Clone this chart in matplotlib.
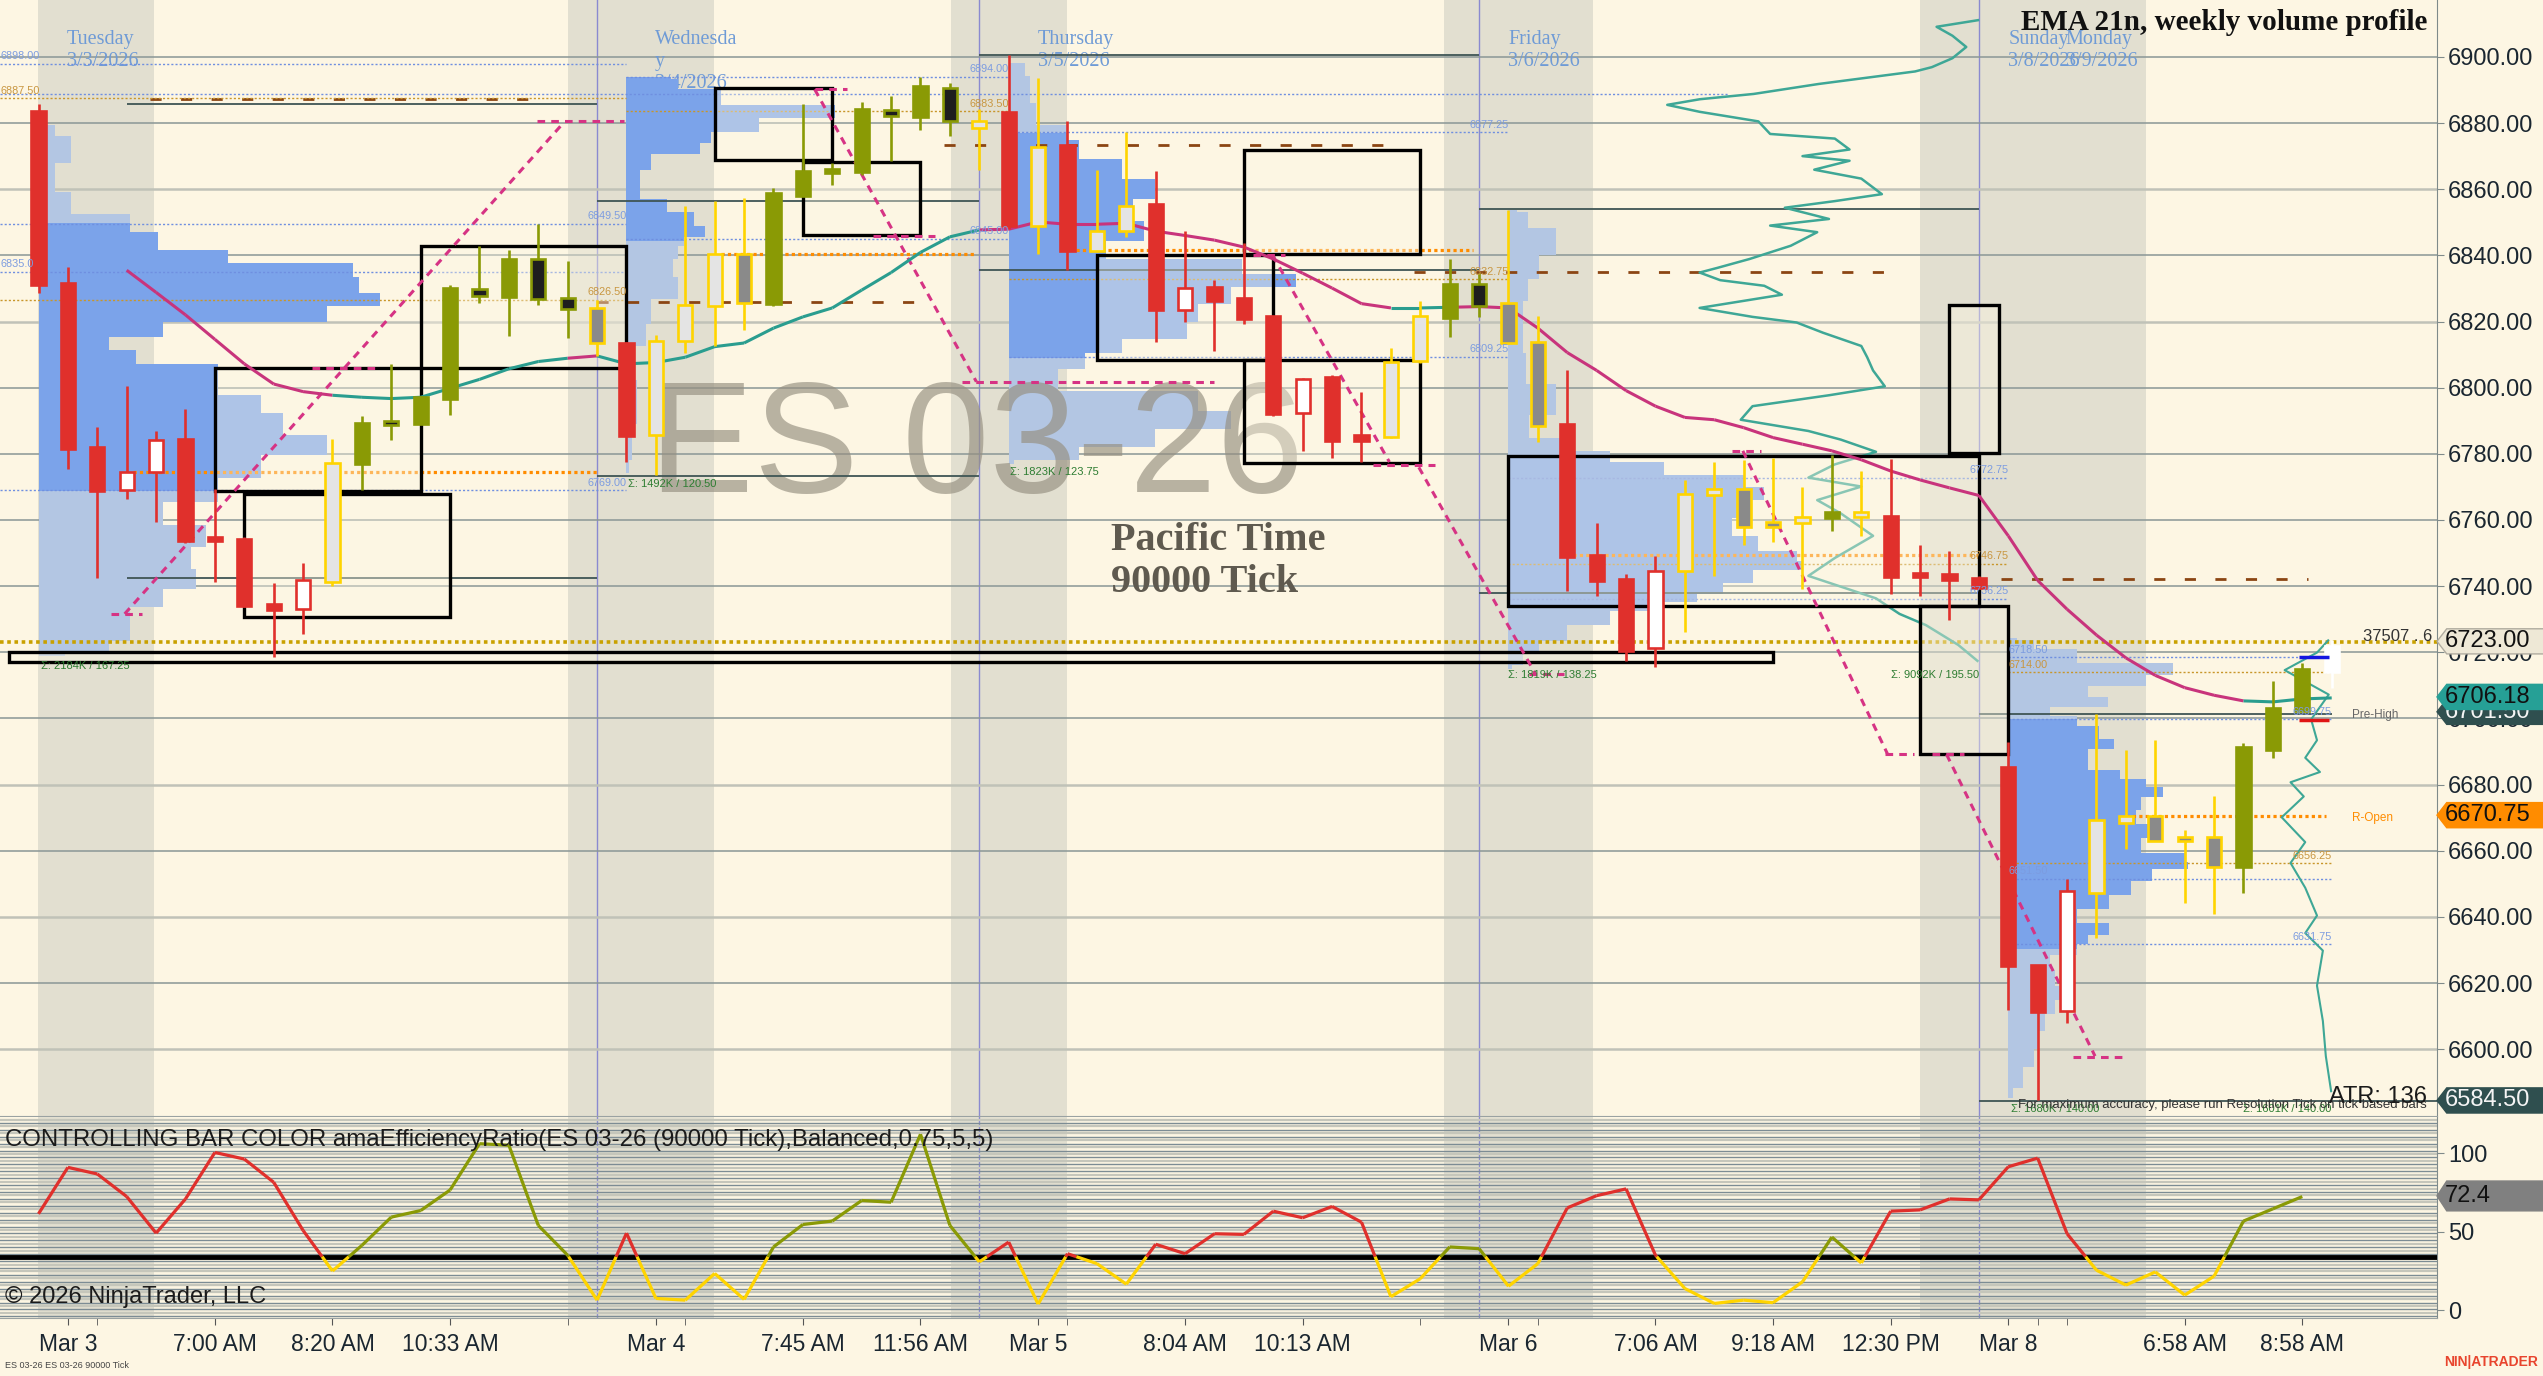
import numpy as np
import matplotlib.pyplot as plt
import matplotlib.transforms as mtransforms
from matplotlib.patches import Rectangle, Polygon
from matplotlib.collections import LineCollection

# ================= data =================
# one candle per 90000-tick bar, x = bar index
opens = [6883.7, 6831.6, 6782.2, 6769.1, 6774.5, 6784.6, 6754.6, 6754.3, 6734.7, 6733.0,
         6741.3, 6776.8, 6789.4, 6789.0, 6796.6, 6829.7, 6827.4, 6838.9, 6827.0, 6824.0,
         6813.5, 6785.6, 6814.0, 6824.7, 6840.5, 6825.4, 6858.0, 6865.4, 6865.2, 6884.0,
         6881.8, 6890.7, 6878.4, 6883.4, 6849.0, 6873.3, 6841.3, 6847.4, 6855.4, 6823.4,
         6830.4, 6827.0, 6821.6, 6792.3, 6803.1, 6785.6, 6785.2, 6808.1, 6821.1, 6831.2,
         6825.7, 6813.8, 6789.0, 6749.5, 6742.0, 6721.2, 6744.7, 6767.4, 6769.4, 6759.3,
         6759.0, 6760.6, 6760.9, 6761.3, 6744.0, 6743.8, 6742.4, 6685.4, 6625.5, 6611.5,
         6647.3, 6668.5, 6670.6, 6664.2, 6664.2, 6655.0, 6690.4, 6702.1, 6714.1]
highs = [6885.7, 6836.5, 6788.2, 6800.4, 6786.8, 6793.5, 6769.4, 6754.8, 6740.9, 6747.1,
         6784.5, 6791.4, 6807.2, 6797.5, 6831.1, 6842.7, 6841.6, 6849.4, 6838.2, 6826.5,
         6813.7, 6816.0, 6854.8, 6856.4, 6857.4, 6860.5, 6885.9, 6867.9, 6886.4, 6888.2,
         6894.0, 6892.0, 6884.1, 6900.6, 6893.6, 6880.5, 6865.9, 6877.2, 6865.5, 6847.3,
         6832.5, 6843.6, 6821.8, 6802.9, 6803.8, 6798.8, 6811.9, 6826.1, 6838.9, 6834.8,
         6853.7, 6821.6, 6805.2, 6759.0, 6743.8, 6749.2, 6772.1, 6777.5, 6778.2, 6778.8,
         6770.1, 6779.5, 6774.8, 6778.4, 6752.3, 6750.5, 6743.0, 6692.9, 6625.5, 6651.5,
         6701.3, 6690.4, 6693.4, 6666.3, 6676.4, 6692.5, 6711.2, 6716.9, 6723.6]
lows = [6828.5, 6775.5, 6742.4, 6766.3, 6759.3, 6753.0, 6741.1, 6733.8, 6718.7, 6725.5,
        6740.0, 6769.0, 6784.2, 6789.0, 6791.7, 6825.7, 6815.7, 6824.9, 6815.0, 6809.6,
        6777.5, 6773.7, 6810.6, 6812.6, 6817.3, 6824.7, 6858.0, 6861.2, 6864.3, 6868.6,
        6878.0, 6876.0, 6865.9, 6848.0, 6840.5, 6835.5, 6840.9, 6845.6, 6813.9, 6819.7,
        6811.0, 6819.1, 6791.4, 6780.9, 6778.8, 6777.5, 6784.9, 6807.6, 6815.3, 6821.4,
        6813.3, 6783.6, 6738.4, 6737.0, 6717.4, 6715.6, 6726.2, 6743.1, 6752.5, 6753.2,
        6739.0, 6756.6, 6755.2, 6737.7, 6737.0, 6729.8, 6739.0, 6611.7, 6584.5, 6608.0,
        6633.5, 6660.5, 6662.8, 6644.1, 6640.9, 6647.3, 6688.1, 6702.1, 6709.3]
closes = [6831.1, 6781.5, 6768.7, 6774.5, 6784.2, 6753.6, 6753.8, 6734.0, 6732.8, 6741.7,
          6777.2, 6789.2, 6789.0, 6797.1, 6830.1, 6827.8, 6838.9, 6826.8, 6823.8, 6813.5,
          6785.5, 6814.2, 6825.0, 6840.5, 6825.7, 6858.9, 6865.6, 6865.8, 6884.1, 6882.2,
          6891.1, 6880.5, 6880.5, 6848.8, 6872.9, 6841.3, 6847.4, 6854.8, 6823.4, 6830.1,
          6826.3, 6820.7, 6791.9, 6802.7, 6783.8, 6783.8, 6807.8, 6821.6, 6831.2, 6824.7,
          6813.5, 6788.3, 6748.9, 6741.5, 6720.4, 6744.7, 6768.0, 6769.4, 6758.0, 6758.0,
          6760.9, 6762.5, 6762.5, 6742.8, 6742.8, 6741.7, 6739.3, 6625.2, 6611.2, 6647.8,
          6669.2, 6670.6, 6662.8, 6662.8, 6655.2, 6691.5, 6703.1, 6714.9, 6722.0]
# bar colour state from amaEfficiencyRatio: r=down trend, g=up trend, y=neutral, w=live bar
trend = ("rrrrrrrrrr" + "y" + "gggggggg" + "y" + "r" + "yyyy" + "ggggggg" + "y" + "r" + "y"
         + "r" + "yy" + "rrrrrrrr" + "yy" + "gg" + "yy" + "rrrr" + "yyyyy" + "g" + "y"
         + "rrrrrrr" + "yyyyy" + "ggg" + "w")

# EMA 21, starts at bar 3
ema_start = 3
ema = [6835.5, 6828.8, 6822.0, 6814.6, 6807.2, 6801.1, 6798.8, 6797.7, 6797.1, 6796.7,
       6797.1, 6799.8, 6802.5, 6805.7, 6807.9, 6808.9, 6809.6, 6807.2, 6807.6, 6809.2,
       6812.4, 6813.5, 6818.0, 6821.4, 6824.1, 6829.5, 6834.8, 6840.9, 6845.6, 6847.7,
       6847.9, 6850.1, 6849.4, 6849.4, 6849.7, 6847.3, 6846.0, 6844.6, 6842.5, 6838.9,
       6834.6, 6830.1, 6825.4, 6824.1, 6824.1, 6824.3, 6824.5, 6824.1, 6818.0, 6810.6,
       6805.2, 6799.1, 6794.4, 6791.0, 6790.3, 6787.9, 6784.9, 6782.9, 6780.9, 6778.2,
       6774.8, 6772.1, 6769.7, 6767.4, 6755.2, 6741.7, 6733.0, 6725.2, 6718.3, 6713.0,
       6709.3, 6707.0, 6705.3, 6705.0, 6705.9, 6706.2]
ema_teal = [(10, 18), (19, 32), (46, 48), (75, 78)]

# efficiency ratio (lower panel), bars 0..77
er_vals = [61.3, 90.9, 86.7, 72.3, 49.0, 70.8, 100.4, 96.2, 81.4, 50.7,
           24.9, 41.2, 59.2, 63.4, 76.5, 106.0, 105.0, 53.9, 34.9, 6.3,
           49.0, 7.4, 6.3, 23.3, 6.8, 40.2, 54.5, 56.7, 69.8, 68.7,
           112.0, 53.9, 30.7, 43.3, 3.8, 35.9, 29.6, 16.5, 41.9, 35.9,
           48.6, 48.2, 63.0, 58.8, 66.0, 56.0, 8.5, 20.0, 40.2, 39.1,
           15.2, 29.6, 65.1, 72.9, 77.2, 34.9, 13.7, 4.2, 6.3, 4.7,
           18.0, 46.5, 30.0, 63.0, 63.8, 70.8, 70.2, 91.3, 96.8, 48.6,
           25.4, 15.9, 24.3, 9.5, 21.6, 56.7, 64.5, 72.3]
er_level = 34.0

time_ticks = [1, 6, 10, 14, 21, 26, 30, 34, 39, 43, 50, 55, 59, 63, 67, 73, 77]
time_labels = ["Mar 3", "7:00 AM", "8:20 AM", "10:33 AM", "Mar 4", "7:45 AM", "11:56 AM",
               "Mar 5", "8:04 AM", "10:13 AM", "Mar 6", "7:06 AM", "9:18 AM", "12:30 PM",
               "Mar 8", "6:58 AM", "8:58 AM"]
minor_ticks = [2, 18, 22, 35, 47, 51, 68, 69]

# session shading and session break lines
band_x0 = [-0.03, 18.0, 31.04, 47.8, 64.0]
band_x1 = [3.93, 22.97, 34.97, 52.86, 71.7]
break_x = [19, 32, 49, 66]

day_x = [0.97, 20.97, 34.0, 50.0, 67.0, 68.95]
day_names = ["Tuesday", "Wednesda\ny", "Thursday", "Friday", "Sunday", "Monday"]
day_dates = ["3/3/2026", "3/4/2026", "3/5/2026", "3/6/2026", "3/8/2026", "3/9/2026"]

# session volume profiles: start bar, price levels, widths (bars), value area
prof_x0 = [0, 20, 33, 50, 67]
prof_p = [
    [6879.4, 6872.6, 6863.2, 6855.1, 6849.7, 6844.3, 6838.9, 6836.2, 6830.8, 6826.4, 6822.7,
     6817.3, 6813.3, 6809.2, 6805.2, 6799.8, 6795.7, 6789.0, 6782.2, 6776.8, 6768.7, 6762.0,
     6755.2, 6748.5, 6741.7, 6736.3, 6730.9, 6725.5, 6721.5, 6718.8],
    [6894.0, 6892.9, 6887.5, 6883.4, 6879.4, 6875.3, 6872.6, 6868.6, 6863.2, 6859.1, 6855.1,
     6851.0, 6847.0, 6844.3, 6841.6, 6836.2, 6830.8, 6822.7, 6816.0, 6809.2, 6795.7, 6782.2,
     6774.1],
    [6898.3, 6890.2, 6882.1, 6877.0, 6872.6, 6865.9, 6860.5, 6853.7, 6847.0, 6841.6, 6836.2,
     6832.6, 6828.1, 6822.7, 6817.3, 6811.9, 6808.9, 6802.5, 6795.7, 6790.3, 6784.9, 6779.5,
     6776.8],
    [6853.7, 6852.4, 6844.3, 6836.2, 6829.5, 6822.7, 6814.6, 6806.5, 6795.7, 6787.6, 6782.2,
     6779.3, 6775.5, 6771.4, 6768.7, 6763.3, 6757.9, 6752.5, 6748.5, 6746.5, 6743.1, 6739.0,
     6736.3, 6733.9, 6730.9, 6725.5, 6721.5, 6717.4, 6714.8],
    [6724.3, 6723.1, 6718.8, 6714.6, 6711.4, 6708.2, 6705.0, 6701.9, 6699.7, 6695.5, 6692.3,
     6689.1, 6686.0, 6682.8, 6680.7, 6678.0, 6674.3, 6670.1, 6665.8, 6661.6, 6657.3, 6655.7,
     6653.1, 6648.8, 6644.6, 6640.4, 6636.1, 6633.0, 6630.3, 6626.6, 6621.3, 6617.0, 6612.8,
     6608.5, 6602.2, 6597.9, 6591.6, 6585.2],
]
prof_w = [
    [0.55, 1.1, 0.55, 1.1, 3.1, 4.06, 6.46, 10.7, 10.9, 11.6, 9.8, 4.24, 2.4, 3.3, 6.1, 6.1,
     7.56, 8.3, 9.8, 7.56, 6.1, 4.24, 5.7, 5.2, 5.35, 4.24, 3.1, 3.1, 2.4, 0.9],
    [1.5, 1.75, 3.2, 7.1, 4.5, 2.86, 2.5, 0.83, 0.46, 0.46, 1.38, 2.3, 2.67, 1.94, 1.75, 1.57,
     1.75, 0.83, 0.65, 0.28, 0.37, 0.18, 0.1],
    [0.55, 0.74, 0.92, 2.03, 2.4, 3.87, 4.98, 4.24, 4.6, 3.3, 7.93, 9.77, 7.56, 6.45, 6.08,
     3.87, 2.58, 1.66, 6.45, 7.56, 4.98, 2.4, 0.18],
    [0.3, 0.68, 1.6, 1.05, 0.68, 0.5, 0.5, 0.6, 1.6, 0.7, 1.8, 3.45, 5.3, 8.0, 8.7, 8.0, 7.6,
     8.5, 9.8, 10.0, 8.3, 7.3, 6.4, 5.3, 3.45, 2.0, 1.05, 0.5, 0.13],
    [0.3, 0.88, 2.34, 5.6, 4.7, 2.7, 3.4, 1.43, 2.34, 3.07, 3.6, 2.7, 2.7, 3.8, 4.7, 5.27, 4.53,
     4.35, 4.9, 4.53, 6.0, 6.1, 4.9, 4.17, 3.44, 2.34, 3.44, 2.7, 2.34, 1.43, 1.6, 1.97, 1.6,
     1.24, 1.06, 0.88, 0.5, 0.15],
]
prof_va_lo = [6768.7, 6844.3, 6808.9, 6733.9, 6630.3]
prof_va_hi = [6849.7, 6894.0, 6877.0, 6779.3, 6699.7]

# weekly profile outlines (teal), x in bars
wk1_x = [65.97, 64.56, 65.1, 65.57, 65.1, 64.4, 63.83, 60.54, 58.34, 56.51, 55.4, 56.5, 58.5,
         58.9, 61.1, 61.6, 60.0, 61.6, 60.4, 62.0, 62.7, 61.1, 59.4, 60.9, 58.9, 60.5, 59.6,
         58.2, 57.1, 56.5, 57.2, 58.7, 59.3, 56.5, 58.3, 59.8, 60.7, 62.0, 62.2, 62.4, 62.8,
         60.9, 58.3, 57.9, 60.2, 61.3, 62.5, 61.1, 60.2, 62.0, 60.5, 61.3, 62.4, 61.1, 60.2,
         62.5, 63.3, 64.2, 65.3, 65.95]
wk1_p = [6911.1, 6909.1, 6906.4, 6903.0, 6899.6, 6896.9, 6895.6, 6891.8, 6888.8, 6887.2,
         6885.5, 6883.4, 6880.5, 6876.7, 6875.3, 6872.0, 6870.0, 6868.6, 6865.9, 6863.2,
         6858.5, 6856.4, 6854.4, 6851.0, 6849.0, 6847.0, 6842.9, 6838.9, 6836.2, 6834.8,
         6832.5, 6830.8, 6828.1, 6824.1, 6821.4, 6819.7, 6816.6, 6812.6, 6809.2, 6805.2,
         6800.4, 6797.7, 6794.4, 6790.3, 6786.9, 6784.3, 6780.6, 6776.8, 6772.8, 6770.1,
         6766.0, 6762.0, 6755.2, 6748.5, 6743.1, 6736.3, 6731.6, 6728.2, 6722.2, 6717.4]
wk2_x = [77.88, 77.5, 76.4, 77.9, 77.3, 77.5, 77.1, 77.6, 76.6, 77.05, 76.3, 77.1, 76.6, 77.1,
         77.5, 77.1, 77.7, 77.5, 77.7, 77.8, 77.98]
wk2_p = [6723.6, 6719.9, 6714.6, 6707.2, 6699.7, 6693.4, 6688.1, 6683.8, 6680.7, 6676.4,
         6670.1, 6662.6, 6656.3, 6648.8, 6640.4, 6635.1, 6629.8, 6619.2, 6608.5, 6597.9, 6587.3]

# drawn rectangles: x0, x1, low, high
box_x0 = [13, 6, 7, 23, 26, 41, 36, 41, 50, 65, 64, -1]
box_x1 = [20, 13, 14, 27, 30, 47, 42, 47, 66, 66.7, 67, 59]
box_lo = [6805.8, 6768.7, 6730.7, 6868.9, 6846.3, 6840.5, 6808.5, 6777.2, 6733.9, 6780.2, 6689.1, 6717.0]
box_hi = [6842.9, 6805.8, 6768.0, 6890.6, 6868.3, 6872.0, 6840.0, 6808.5, 6779.2, 6825.1, 6733.9, 6720.2]

# dashed magenta swing lines: x0, p0, x1, p1
mg_x0 = [2.93, 26.4, 41.98, 46.95, 57.97, 64.9, 2.47, 16.95, 9.3, 26.4, 28.4, 31.4, 41.3, 45.4, 50.7, 57.6, 62.8, 64.4, 69.2]
mg_p0 = [6731.6, 6890.2, 6840.0, 6775.9, 6780.9, 6689.1, 6731.6, 6880.5, 6805.8, 6890.2, 6846.0, 6801.8, 6840.0, 6776.5, 6713.4, 6780.9, 6689.1, 6689.1, 6597.7]
mg_x1 = [17.86, 31.9, 45.95, 50.92, 62.9, 69.95, 3.52, 19.9, 11.5, 27.5, 30.5, 40.0, 42.4, 47.5, 51.9, 58.6, 63.8, 65.5, 70.9]
mg_p1 = [6880.1, 6801.8, 6777.5, 6713.4, 6689.1, 6597.9, 6731.6, 6880.5, 6805.8, 6890.2, 6846.0, 6801.8, 6840.0, 6776.5, 6713.4, 6780.9, 6689.1, 6689.1, 6597.7]

# prior session high / low (solid)
sess_x0 = [3, 3, 19, 19, 32, 32, 49, 49, 66, 66]
sess_x1 = [19, 19, 32, 32, 49, 49, 66, 66, 78, 81.6]
sess_p = [6885.9, 6742.4, 6856.4, 6773.4, 6900.6, 6835.5, 6854.0, 6737.9, 6701.3, 6584.3]
# session opens (orange dotted)
open_x0 = [3.2, 23.2, 35.3, 52.2, 71.0]
open_x1 = [19.0, 31.9, 48.8, 66.0, 77.8]
open_p = [6774.4, 6840.5, 6841.6, 6749.4, 6670.4]
# brown dash levels
br_x0 = [3.8, 19.0, 30.8, 46.8, 66.75]
br_x1 = [17.1, 30.2, 46.1, 63.1, 77.2]
br_p = [6887.2, 6825.9, 6873.3, 6835.1, 6742.3]

# profile value-area / POC levels with labels
lvl_x0 = [-1.31, -1.31, -1.31, -1.31, -1.31, -1.31, -1.31, 20, 20, 20, 33, 33, 33, 50, 50, 50, 67, 67, 67, 67, 67, 67]
lvl_x1 = [20, 57.5, 20, 20, 20, 20, 20, 33, 33, 33, 50, 50, 50, 67, 67, 67, 78, 78, 78, 78, 78, 78]
lvl_p = [6898.0, 6888.8, 6887.5, 6835.0, 6849.5, 6826.5, 6769.0, 6894.0, 6883.5, 6845.0,
         6877.25, 6832.75, 6809.25, 6772.75, 6746.75, 6736.25, 6718.5, 6714.0, 6699.75,
         6656.25, 6651.5, 6631.75]
lvl_kind = "bbobbobbobbobbobbobobb"
lvl_label = ["6898.00", "", "6887.50", "6835.0", "6849.50", "6826.50", "6769.00", "6894.00",
             "6883.50", "6845.00", "6877.25", "6832.75", "6809.25", "6772.75", "6746.75",
             "6736.25", "6718.50", "6714.00", "6699.75", "6656.25", "6651.50", "6631.75"]
lvl_side = "l-llrrrrrrrrrrrrllrrlr"

sig_x = [0.07, 20.04, 33.05, 50.0, 66.0, 67.1, 78.0]
sig_p = [6715.8, 6771.0, 6774.5, 6713.0, 6713.1, 6581.8, 6581.8]
sig_t = ["Σ: 2184K / 167.25", "Σ: 1492K / 120.50", "Σ: 1823K / 123.75", "Σ: 1819K / 138.25",
         "Σ: 9092K / 195.50", "Σ: 1680K / 140.00", "Σ: 1601K / 140.00"]
sig_ha = ["left", "left", "left", "left", "right", "left", "right"]

# right-axis price markers (drawn in this order)
mk_p = [6723.3, 6702.0, 6706.5, 6670.75, 6584.5]
mk_t = ["6723.00", "6701.50", "6706.18", "6670.75", "6584.50"]
mk_face = ["#eee8d6", "#2f4f4f", "#26a096", "#ff8c00", "#2f4f4f"]
mk_tc = ["#111111", "#f4f4f4", "#111111", "#111111", "#f4f4f4"]

# ================= styling =================
BG = "#fdf6e3"
BAND = "#e2dfd0"
RED, OLIVE, YEL = "#e0302c", "#8a9a05", "#ffd400"
MAG, TEAL = "#c8347c", "#2a9d8f"
TXT = "#1a2630"
plt.rcParams["font.family"] = ["Liberation Sans", "DejaVu Sans"]

W, H = 2543, 1376
fig = plt.figure(figsize=(W / 100, H / 100), dpi=100, facecolor=BG)
ax = fig.add_axes([0, 1 - 1116 / H, 2437 / W, 1116 / H], facecolor=BG)
axi = fig.add_axes([0, 1 - 1318 / H, 2437 / W, 201 / H], facecolor=BG)

XL = (-38.5 / 29.4, (2437 - 38.5) / 29.4)
for a in (ax, axi):
    a.set_xlim(*XL)
    for b0, b1 in zip(band_x0, band_x1):
        a.axvspan(b0, b1, color=BAND, lw=0, zorder=0.5)
    for bx in break_x:
        a.axvline(bx, color="#8a8ad0", lw=1.0, zorder=0.8)
    for s in ("top", "left"):
        a.spines[s].set_visible(False)
    a.spines["right"].set_color("#7f8a8a")
    a.spines["bottom"].set_color("#9aa2a2")
ax.set_ylim(6579.8, 6917.2)
axi.set_ylim(-5.07, 123.0)

# ---- price grid
for p in range(6600, 6901, 20):
    light = p in (6860, 6820, 6680, 6640, 6600)
    ax.axhline(p, color="#c0c2b8" if light else "#8a9696", lw=1.8 if light else 1.1, zorder=1)

ax.yaxis.tick_right()
ax.set_yticks(range(6600, 6901, 20))
ax.set_yticklabels([f"{p:.2f}" for p in range(6600, 6901, 20)])
ax.tick_params(axis="y", labelsize=17, colors=TXT, length=5, pad=3, color="#7f8a8a")
ax.set_xticks([])

# ---- watermark and session labels
ax.text(31.9, 6780.8, "ES 03-26", fontsize=113, color="#958f80", alpha=0.66,
        ha="center", va="center", zorder=2.6)
tday = mtransforms.blended_transform_factory(ax.transData, ax.transAxes)
for dx, nm, dt in zip(day_x, day_names, day_dates):
    lines = nm.split("\n") + [dt]
    for k, t in enumerate(lines):
        ax.text(dx, 0.9642 - k * 0.0193, t, transform=tday, fontsize=14.5,
                family="Liberation Serif", color="#6f9bd6", va="center", ha="left", zorder=1.3)

# ---- volume profiles
for x0, pp, ww, lo, hi in zip(prof_x0, prof_p, prof_w, prof_va_lo, prof_va_hi):
    pp = np.array(pp)
    ww = np.array(ww)
    ax.fill_betweenx(pp, x0, x0 + ww, step="mid", color="#b3c6e3", lw=0, zorder=2)
    m = (pp >= lo - 0.01) & (pp <= hi + 0.01)
    ax.fill_betweenx(pp, x0, x0 + ww, where=m, step="mid", color="#7ba3ea", lw=0, zorder=2.1)

# ---- levels
for x0, x1, p in zip(sess_x0, sess_x1, sess_p):
    ax.hlines(p, x0, x1, color="#3f5555", lw=1.3, zorder=3)
for x0, x1, p in zip(open_x0, open_x1, open_p):
    ax.hlines(p, x0, x1, color="#ff8c00", lw=2.3, linestyles=(0, (1, 1)), zorder=3)
for x0, x1, p in zip(br_x0, br_x1, br_p):
    ax.hlines(p, x0, x1, color="#8b4513", lw=2.0, linestyles=(0, (4, 7)), zorder=3)
ax.hlines(6723.0, XL[0], XL[1], color="#c9a100", lw=2.6, linestyles=(0, (1, 1)), zorder=3)
ax.text(0.998, 6724.8, "37507 . 6", transform=mtransforms.blended_transform_factory(ax.transAxes, ax.transData),
        fontsize=12, color="#333333", ha="right", va="center", zorder=9)

for x0, x1, p, k, lab, sd in zip(lvl_x0, lvl_x1, lvl_p, lvl_kind, lvl_label, lvl_side):
    c = "#6f8fe0" if k == "b" else "#c8962a"
    ax.hlines(p, x0, x1, color=c, lw=1.0, linestyles=(0, (1.5, 1.5)), zorder=3)
    if lab:
        ax.text(x0 + 0.02 if sd == "l" else x1, p + 2.3, lab, fontsize=7.8,
                color="#7c9ce0" if k == "b" else "#c89640",
                ha="left" if sd == "l" else "right", va="center", zorder=8)

for x, p, t, ha in zip(sig_x, sig_p, sig_t, sig_ha):
    ax.text(x, p, t, fontsize=8, color="#2e7d32", ha=ha, va="center", zorder=8)

# ---- weekly profile outlines
ax.plot(wk1_x, wk1_p, color="#3ea796", lw=1.8, zorder=3.5)
ax.plot(wk2_x, wk2_p, color="#3ea796", lw=1.5, zorder=3.5)

# ---- rectangles
for x0, x1, lo, hi in zip(box_x0, box_x1, box_lo, box_hi):
    ax.add_patch(Rectangle((x0, lo), x1 - x0, hi - lo, facecolor=(0.99, 0.965, 0.89, 0.4),
                           edgecolor="black", lw=2.4, zorder=4))

# ---- magenta swing lines
for x0, p0, x1, p1 in zip(mg_x0, mg_p0, mg_x1, mg_p1):
    ax.plot([x0, x1], [p0, p1], color="#d63384", lw=2.2, linestyle=(0, (2.5, 2)), zorder=4.5)

# ---- EMA
ex = np.arange(ema_start, ema_start + len(ema))
segs, cols = [], []
for k in range(len(ema) - 1):
    segs.append([(ex[k], ema[k]), (ex[k + 1], ema[k + 1])])
    teal = any(a <= ex[k] < b for a, b in ema_teal)
    cols.append(TEAL if teal else MAG)
ax.add_collection(LineCollection(segs, colors=cols, linewidths=2.2, zorder=5))

# ---- candles
for i, (o, h, l, c, t) in enumerate(zip(opens, highs, lows, closes, trend)):
    up = c >= o
    if t == "r":
        edge, face = RED, ("white" if up else RED)
    elif t == "g":
        edge, face = OLIVE, (OLIVE if up else "#1e1e1e")
    elif t == "y":
        edge, face = YEL, ("#e4e4e4" if up else "#8a8a8a")
    else:
        edge, face = "white", "white"
    ax.vlines(i, l, h, color=edge, lw=1.9, zorder=6)
    lo, hi = min(o, c), max(o, c)
    if hi - lo < 1.2:
        mid = (hi + lo) / 2
        lo, hi = mid - 0.6, mid + 0.6
    ax.add_patch(Rectangle((i - 0.24, lo), 0.48, hi - lo, facecolor=face, edgecolor=edge,
                           lw=1.9, zorder=7))

# small markers on the live bar
ax.hlines(6718.6, 76.9, 77.9, color="#1515e0", lw=2.5, zorder=8)
ax.hlines(6699.5, 76.9, 77.9, color="#e01515", lw=2.5, zorder=8)

# ---- texts in price panel
ax.text(36.48, 6753.9, "Pacific Time", fontsize=29, family="Liberation Serif", weight="bold",
        color="#5f5a4f", va="center", ha="left", zorder=9)
ax.text(36.48, 6741.1, "90000 Tick", fontsize=29, family="Liberation Serif", weight="bold",
        color="#5f5a4f", va="center", ha="left", zorder=9)
ax.text(0.9959, 0.980, "EMA 21n, weekly volume profile", transform=ax.transAxes, fontsize=21,
        family="Liberation Serif", weight="bold", color="#111111", ha="right", va="center", zorder=9)
ax.text(78.7, 6701.0, "Pre-High", fontsize=8.5, color="#666666", ha="left", va="center", zorder=8)
ax.text(78.7, 6669.8, "R-Open", fontsize=8.5, color="#ff8c00", ha="left", va="center", zorder=8)
ax.text(0.9959, 6583.2, "For maximum accuracy, please run Resolution Tick on tick based bars",
        transform=mtransforms.blended_transform_factory(ax.transAxes, ax.transData),
        fontsize=9.5, color="#333333", ha="right", va="center", zorder=9)
ax.text(0.9959, 6585.5, "ATR: 136", transform=mtransforms.blended_transform_factory(ax.transAxes, ax.transData),
        fontsize=17, color="#1a1a1a", ha="right", va="center", zorder=9)

# ---- right axis price markers
tr = mtransforms.blended_transform_factory(ax.transAxes, ax.transData)
bh = 7.6
for k, (p, t, fc, tc) in enumerate(zip(mk_p, mk_t, mk_face, mk_tc)):
    poly = [(1.0, p), (1.004, p + bh / 2), (1.05, p + bh / 2), (1.05, p - bh / 2), (1.004, p - bh / 2)]
    ax.add_patch(Polygon(poly, closed=True, transform=tr, facecolor=fc,
                         edgecolor="#b0aca0" if fc == "#eee8d6" else fc, lw=1, clip_on=False,
                         zorder=20 + 2 * k))
    ax.text(1.0032, p, t, transform=tr, fontsize=17, color=tc, ha="left", va="center",
            clip_on=False, zorder=21 + 2 * k)

# ================= indicator panel =================
for k, yv in enumerate(np.arange(-4.0, 123.0, 2.2)):
    axi.axhline(yv, color="#7c8c94" if k % 2 == 0 else "#c5c6bb", lw=1.0 if k % 2 == 0 else 1.6, zorder=1)
axi.axhline(er_level, color="black", lw=3.5, zorder=3)

tcol = {"r": RED, "g": OLIVE, "y": YEL, "w": YEL}
isegs, icols = [], []
for i in range(len(er_vals) - 1):
    v0, v1 = er_vals[i], er_vals[i + 1]
    if (v0 - er_level) * (v1 - er_level) < 0:
        xc = i + (er_level - v0) / (v1 - v0)
        isegs.append([(i, v0), (xc, er_level)])
        icols.append(tcol[trend[i]] if v0 > er_level else YEL)
        isegs.append([(xc, er_level), (i + 1, v1)])
        icols.append(tcol[trend[i + 1]] if v1 > er_level else YEL)
    else:
        isegs.append([(i, v0), (i + 1, v1)])
        icols.append(tcol[trend[i + 1]] if v1 >= er_level else YEL)
axi.add_collection(LineCollection(isegs, colors=icols, linewidths=2.3, zorder=4))

axi.yaxis.tick_right()
axi.set_yticks([0, 50, 100])
axi.tick_params(axis="y", labelsize=17, colors=TXT, length=5, pad=3, color="#7f8a8a")
axi.set_xticks(time_ticks)
axi.set_xticklabels(time_labels)
axi.set_xticks(minor_ticks, minor=True)
axi.tick_params(axis="x", which="both", labelsize=16.5, colors=TXT, length=5, pad=6, color="#555555")

axi.text(0.002, 0.886, "CONTROLLING BAR COLOR amaEfficiencyRatio(ES 03-26 (90000 Tick),Balanced,0.75,5,5)",
         transform=axi.transAxes, fontsize=17.3, color="#1a1a1a", ha="left", va="center", zorder=9)
axi.text(0.002, 0.104, "© 2026 NinjaTrader, LLC", transform=axi.transAxes, fontsize=17,
         color="#1a1a1a", ha="left", va="center", zorder=9)

itr = mtransforms.blended_transform_factory(axi.transAxes, axi.transData)
axi.add_patch(Polygon([(1.0, 72.7), (1.004, 82.2), (1.05, 82.2), (1.05, 63.2), (1.004, 63.2)],
                      closed=True, transform=itr, facecolor="#808080", edgecolor="#808080",
                      clip_on=False, zorder=20))
axi.text(1.0032, 72.7, "72.4", transform=itr, fontsize=17, color="#111111", ha="left",
         va="center", clip_on=False, zorder=21)

fig.text(0.002, 1 - 1366 / H, "ES 03-26 ES 03-26 90000 Tick", fontsize=6.5, color="#444444",
         ha="left", va="center")
fig.text(0.998, 1 - 1362 / H, "NIN|ATRADER", fontsize=10, weight="bold", color="#e8452e",
         ha="right", va="center")

fig.savefig("out.png", dpi=100, facecolor=BG)
